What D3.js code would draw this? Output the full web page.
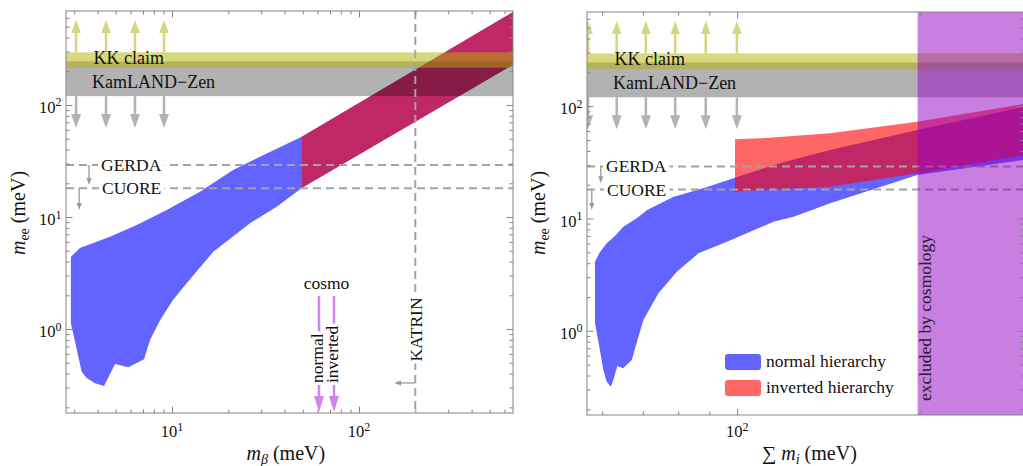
<!DOCTYPE html>
<html><head><meta charset="utf-8">
<script src="https://cdn.jsdelivr.net/npm/d3@7"></script>
<style>body{margin:0;background:#fff} svg{display:block} text{font-family:"Liberation Serif","Times New Roman",serif;fill:#111}</style>
</head><body><svg id="c" width="1023" height="466"></svg>
<script>
// ---------------- data (meV) ----------------
const xDomainLeft = [2.712, 666];
const xDomainRight = [56.66, 296.1];
const yDomain = [0.178, 690];

// left panel: m_ee vs m_beta
const nhLeftUpper = [[2.88,4.42],[3.22,5.29],[4.66,6.67],[6.48,8.48],[9.37,11.55],[14.12,16.82],[21.2,26.28],[29.55,34.54],[49.4,52.1],[666,677]];
const nhLeftLower = [[2.88,1.13],[3.29,0.416],[3.50,0.365],[3.88,0.328],[4.33,0.310],[4.96,0.487],[5.84,0.455],[7.09,0.536],[7.63,0.80],[8.63,1.20],[10.12,1.82],[11.98,2.56],[16.63,4.90],[26.13,8.78],[36.3,12.36],[49.4,18.15],[666,228]];
const ihLeftUpper = [[49.4,52.1],[666,677]];
const ihLeftLower = [[49.4,18.15],[666,228]];

// right panel: m_ee vs sum m_i
const nhRightUpper = [[58.4,4.13],[59.5,5.03],[61.1,6.05],[63.0,6.99],[64.94,8.40],[68.48,10.11],[71.12,11.91],[78.49,15.55],[89.28,19.08],[100,23.42],[117.7,31.21],[142.2,40.75],[197.7,61.4],[296.1,98.6]];
const nhRightLower = [[58.4,1.167],[59.37,0.7225],[60.27,0.448],[61.05,0.352],[61.99,0.318],[62.6,0.365],[63.55,0.486],[64.96,0.464],[67.12,0.550],[68.83,0.887],[70.14,1.248],[74.24,2.159],[79.6,3.361],[86.37,4.90],[96.2,6.22],[103.7,7.39],[114.7,9.37],[123.8,10.38],[142.2,13.66],[197.7,24.41],[296.1,33.25]];
const ihRightUpper = [[99.2,50.7],[109.1,51.8],[142.2,57.4],[197.7,72.8],[296.1,104.8]];
const ihRightLower = [[99.2,17.33],[109.1,17.94],[142.2,19.2],[197.7,25.27],[296.1,36.85]];

// experimental bounds
const kkBand = [215, 295];
const kamlandBand = [120, 245];
const gerdaLimit = 29.1;
const cuoreLimit = 18.1;
const katrinLimit = 200;
const cosmoNormal = 61.1;
const cosmoInverted = 73.5;
const cosmoExcluded = 198;
const arrowsLeftX = [3.07, 4.44, 6.34, 9.06];
const arrowsRightX = [56.9, 63.4, 70.8, 79.1, 88.8, 99.9];
const upArrowTip = 574, downArrowTip = 62.4;

// ticks
const xMajorLeft = [10, 100], xMajorLeftLabels = ["1", "2"];
const xMajorRight = [100], xMajorRightLabels = ["2"];
const yMajor = [1, 10, 100], yMajorLabels = ["0", "1", "2"];
const legendLabels = ["normal hierarchy", "inverted hierarchy"];

// ---------------- drawing ----------------
const svg = d3.select("#c");
const FR = "#858585";
const BLUE = "#6363ff", RED = "rgb(255,0,0)", GRAY = "#000", YEL = "rgb(177,177,0)";
const DASH = "#a3a3a3";

const xL = d3.scaleLog().domain(xDomainLeft).range([66, 513]);
const yL = d3.scaleLog().domain(yDomain).range([413, 11]);
const xR = d3.scaleLog().domain(xDomainRight).range([587, 1024]);
const yR = d3.scaleLog().domain(yDomain).range([415, 12]);

const defs = svg.append("defs");
function clip(id, x, y) {
  defs.append("clipPath").attr("id", id).append("rect")
    .attr("x", x.range()[0]).attr("y", y.range()[1])
    .attr("width", x.range()[1] - x.range()[0]).attr("height", y.range()[0] - y.range()[1]);
}
clip("cl", xL, yL); clip("cr", xR, yR);

function minorTicks(dom) {
  const out = [];
  for (let d = Math.floor(Math.log10(dom[0])); d <= Math.ceil(Math.log10(dom[1])); d++)
    for (let k = 2; k <= 9; k++) { const v = k * Math.pow(10, d); if (v >= dom[0] && v <= dom[1]) out.push(v); }
  return out;
}

function polygon(g, x, y, upper, lower, fill, op) {
  const pts = upper.concat(lower.slice().reverse());
  const ln = d3.line().x(d => x(d[0])).y(d => y(d[1]));
  g.append("path").attr("d", ln(pts) + "Z").attr("fill", fill).attr("fill-opacity", op);
}

function vArrow(g, x, y0, y1, color, sw, hw, hl) {
  const dir = y1 > y0 ? 1 : -1;
  g.append("line").attr("x1", x).attr("x2", x).attr("y1", y0).attr("y2", y1 - dir * hl * 0.8)
    .attr("stroke", color).attr("stroke-width", sw);
  g.append("path").attr("d", `M${x - hw / 2},${y1 - dir * hl}L${x + hw / 2},${y1 - dir * hl}L${x},${y1}Z`).attr("fill", color);
}
function hArrow(g, x0, x1, y, color, sw, hw, hl) {
  const dir = x1 > x0 ? 1 : -1;
  g.append("line").attr("x1", x0).attr("x2", x1 - dir * hl * 0.8).attr("y1", y).attr("y2", y)
    .attr("stroke", color).attr("stroke-width", sw);
  g.append("path").attr("d", `M${x1 - dir * hl},${y - hw / 2}L${x1 - dir * hl},${y + hw / 2}L${x1},${y}Z`).attr("fill", color);
}

function supLabel(g, x, y, anchor, base, exp) {
  const t = g.append("text").attr("x", x).attr("y", y).attr("text-anchor", anchor).style("font-size", "16.5px");
  t.append("tspan").text(base);
  t.append("tspan").attr("dy", -6.5).style("font-size", "12px").text(exp);
}

function frameAxes(g, x, y, xMaj, xLab) {
  const x0 = x.range()[0], x1 = x.range()[1], y0 = y.range()[1], y1 = y.range()[0];
  const ax = [
    [d3.axisBottom(x), `translate(0,${y1})`, xMaj, minorTicks(x.domain())],
    [d3.axisTop(x), `translate(0,${y0})`, xMaj, minorTicks(x.domain())],
    [d3.axisLeft(y), `translate(${x0},0)`, yMajor, minorTicks(y.domain())],
    [d3.axisRight(y), `translate(${x1},0)`, yMajor, minorTicks(y.domain())]
  ];
  ax.forEach(([a, tr, maj, mnr]) => {
    const ag = g.append("g").attr("transform", tr);
    ag.call(a.tickValues(maj).tickSizeInner(-6.5).tickSizeOuter(0).tickFormat(""));
    ag.select(".domain").remove();
    const bg = g.append("g").attr("transform", tr);
    bg.call(a.tickValues(mnr).tickSizeInner(-3.5).tickSizeOuter(0).tickFormat(""));
    bg.select(".domain").remove();
    [ag, bg].forEach(s => s.selectAll("line").attr("stroke", FR));
  });
  g.append("rect").attr("x", x0).attr("y", y0).attr("width", x1 - x0).attr("height", y1 - y0)
    .attr("fill", "none").attr("stroke", FR).attr("stroke-width", 1);
  xMaj.forEach((v, i) => supLabel(g, x(v), 437, "middle", "10", xLab[i]));
  yMajor.forEach((v, i) => supLabel(g, x0 - 4.5, y(v) + 8, "end", "10", yMajorLabels[i]));
}

function boxedText(g, x, y, txt) {
  const t = g.append("text").attr("x", x).attr("y", y + 6).style("font-size", "17.5px").text(txt);
  const bb = t.node().getBBox();
  g.insert("rect", () => t.node()).attr("x", bb.x - 3).attr("y", y - 8).attr("width", bb.width + 6).attr("height", 16).attr("fill", "#fff");
}
function vText(g, xb, y, anchor, txt, bg) {
  const t = g.append("text").attr("transform", `translate(${xb},${y}) rotate(-90)`)
    .attr("text-anchor", anchor).style("font-size", "17.5px").text(txt);
  if (bg) {
    const bb = t.node().getBBox();
    g.insert("rect", () => t.node()).attr("transform", `translate(${xb},${y}) rotate(-90)`)
      .attr("x", bb.x - 2).attr("y", bb.y + 1).attr("width", bb.width + 4).attr("height", bb.height - 2).attr("fill", "#fff");
  }
  return t;
}

function bandsAndLimits(c, x, y, arrowsX, leftX) {
  const x0 = x.range()[0], x1 = x.range()[1];
  c.append("rect").attr("x", x0).attr("width", x1 - x0).attr("y", y(kamlandBand[1])).attr("height", y(kamlandBand[0]) - y(kamlandBand[1]))
    .attr("fill", GRAY).attr("fill-opacity", 0.3);
  c.append("rect").attr("x", x0).attr("width", x1 - x0).attr("y", y(kkBand[1])).attr("height", y(kkBand[0]) - y(kkBand[1]))
    .attr("fill", YEL).attr("fill-opacity", 0.5);
  arrowsX.forEach(v => {
    vArrow(c, x(v), y(kkBand[1]), y(upArrowTip), "#d6d67e", 2.5, 9.5, 13);
    vArrow(c, x(v), y(kamlandBand[0]), y(downArrowTip), "#b3b3b3", 2.5, 10, 14);
  });
  c.append("text").attr("x", x0 + 27.5).attr("y", y(kkBand[0]) - 4).style("font-size", "18px").text("KK claim");
  c.append("text").attr("x", x0 + 26).attr("y", y(kamlandBand[0]) - 8.5).style("font-size", "18px").text("KamLAND\u2212Zen");
  [gerdaLimit, cuoreLimit].forEach(v => {
    c.append("line").attr("x1", x0).attr("x2", x1).attr("y1", y(v)).attr("y2", y(v))
      .attr("stroke", DASH).attr("stroke-width", 2).attr("stroke-dasharray", "8,5");
  });
  boxedText(c, leftX, y(gerdaLimit), "GERDA");
  boxedText(c, leftX + 1, y(cuoreLimit), "CUORE");
}

// ---------- left panel ----------
const gl = svg.append("g");
const cl = gl.append("g").attr("clip-path", "url(#cl)");
polygon(cl, xL, yL, nhLeftUpper, nhLeftLower, BLUE, 1);
polygon(cl, xL, yL, ihLeftUpper, ihLeftLower, RED, 0.6);
bandsAndLimits(cl, xL, yL, arrowsLeftX, 101);
vArrow(cl, xL(3.60), yL(gerdaLimit), yL(19.3), "#9a9a9a", 1.3, 5, 7);
vArrow(cl, xL(3.19), yL(cuoreLimit), yL(11.55), "#9a9a9a", 1.3, 5, 7);
cl.append("line").attr("x1", xL(katrinLimit)).attr("x2", xL(katrinLimit)).attr("y1", 11).attr("y2", 413)
  .attr("stroke", DASH).attr("stroke-width", 2).attr("stroke-dasharray", "8,5");
vText(cl, xL(katrinLimit) + 6.5, 329.5, "middle", "KATRIN", true);
hArrow(cl, xL(katrinLimit), xL(154), yL(0.33), "#9a9a9a", 1.3, 5, 7);
const COS = "#d184ec";
[cosmoNormal, cosmoInverted].forEach(v => vArrow(cl, xL(v), yL(1.97), yL(0.182), COS, 2.5, 10, 16));
vText(cl, xL(cosmoNormal) + 4, 383, "start", "normal", true);
vText(cl, xL(cosmoInverted) + 4.5, 383, "start", "inverted", true);
cl.append("text").attr("x", (xL(cosmoNormal) + xL(cosmoInverted)) / 2).attr("y", 289).attr("text-anchor", "middle")
  .style("font-size", "17.5px").text("cosmo");
frameAxes(gl, xL, yL, xMajorLeft, xMajorLeftLabels);
(function () {
  const t = gl.append("text").attr("transform", "translate(25,213) rotate(-90)").attr("text-anchor", "middle").style("font-size", "20px");
  t.append("tspan").style("font-style", "italic").text("m");
  t.append("tspan").attr("dy", 4).style("font-size", "14px").text("ee");
  t.append("tspan").attr("dy", -4).text(" (meV)");
  const u = gl.append("text").attr("x", 246.5).attr("y", 460).style("font-size", "20px");
  u.append("tspan").style("font-style", "italic").text("m");
  u.append("tspan").attr("dy", 4).style("font-size", "14px").style("font-style", "italic").text("\u03b2");
  u.append("tspan").attr("dy", -4).text(" (meV)");
})();

// ---------- right panel ----------
const gr = svg.append("g");
const cr = gr.append("g").attr("clip-path", "url(#cr)");
polygon(cr, xR, yR, nhRightUpper, nhRightLower, BLUE, 1);
polygon(cr, xR, yR, ihRightUpper, ihRightLower, RED, 0.6);
bandsAndLimits(cr, xR, yR, arrowsRightX, 606);
vArrow(cr, xR(59.7), yR(gerdaLimit), yR(20.6), "#9a9a9a", 1.3, 5, 7);
vArrow(cr, xR(57.7), yR(cuoreLimit), yR(11.9), "#9a9a9a", 1.3, 5, 7);
cr.append("rect").attr("x", xR(cosmoExcluded)).attr("y", 12).attr("width", xR.range()[1] - xR(cosmoExcluded) + 2).attr("height", 403)
  .attr("fill", "rgb(145,0,193)").attr("fill-opacity", 0.5);
vText(cr, xR(cosmoExcluded) + 13.5, 318, "middle", "excluded by cosmology", false).style("fill", "#2a1a30");
[[BLUE, 354], ["#ff6666", 380]].forEach(([col, yy], i) => {
  gr.append("rect").attr("x", 725).attr("y", yy).attr("width", 36).attr("height", 16).attr("rx", 3).attr("fill", col);
  gr.append("text").attr("x", 766).attr("y", yy + 13).style("font-size", "17.5px").text(legendLabels[i]);
});
frameAxes(gr, xR, yR, xMajorRight, xMajorRightLabels);
(function () {
  const t = gr.append("text").attr("transform", "translate(545,213) rotate(-90)").attr("text-anchor", "middle").style("font-size", "20px");
  t.append("tspan").style("font-style", "italic").text("m");
  t.append("tspan").attr("dy", 4).style("font-size", "14px").text("ee");
  t.append("tspan").attr("dy", -4).text(" (meV)");
  const u = gr.append("text").attr("x", 762).attr("y", 460).style("font-size", "20px");
  u.append("tspan").text("\u2211 ");
  u.append("tspan").style("font-style", "italic").text("m");
  u.append("tspan").attr("dy", 4).style("font-size", "14px").style("font-style", "italic").text("i");
  u.append("tspan").attr("dy", -4).text(" (meV)");
})();
</script></body></html>
